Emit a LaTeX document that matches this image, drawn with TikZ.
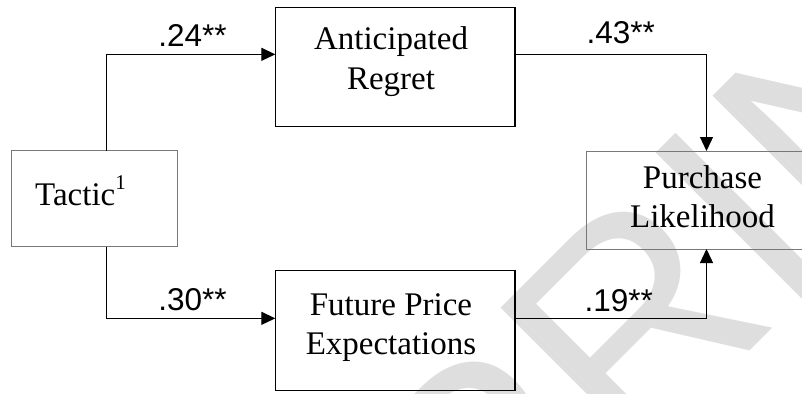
\documentclass[tikz,border=0pt]{standalone}
\usepackage{fontspec}
\setmainfont{Liberation Serif}
\setsansfont{Liberation Sans}
\usetikzlibrary{arrows.meta,calc}
\definecolor{framegray}{RGB}{120,120,120}
\definecolor{wmgray}{RGB}{222,222,222}

\begin{document}
\begin{tikzpicture}[x=1pt,y=-1pt,
  thickbox/.style={draw=black, line width=1.5pt, minimum width=239.7pt,
    minimum height=120pt, inner sep=0pt, outer sep=0pt},
  thinbox/.style={draw=framegray, line width=1pt, inner sep=0pt, outer sep=0pt},
  word/.style={font=\fontsize{33}{39.5}\selectfont, inner sep=0pt, anchor=base},
  coef/.style={font=\sffamily\fontsize{31.5}{36}\selectfont, inner sep=0pt, anchor=base},
  link/.style={line width=1.3pt, -{Triangle[length=14pt,width=13pt]}},
  wm/.style={font=\sffamily\fontsize{300}{300}\selectfont, text=wmgray, inner sep=0pt},
]
\clip (0,0) rectangle (802,393);

% faint watermark behind the diagram
\node[wm, rotate=45] (wmk) at (515,440) {PREPRINT};

% boxes
\node[thinbox, minimum width=166.3pt, minimum height=96pt] (tac) at (94.15,198.7) {};
\node[thickbox, minimum height=119.4pt] (ar) at (395.15,67) {};
\node[thickbox] (fp) at (395.15,330.7) {};
\node[thinbox, minimum width=239.7pt, minimum height=98pt] (pl) at (706.5,200) {};

% box texts
\node[word, anchor=base west] (tact) at (35,205.7)
  {Tactic\raisebox{16pt}{\fontsize{21}{21}\selectfont 1}};
\node[word] (ar1) at (391,50) {Anticipated};
\node[word] (ar2) at (391,89.5) {Regret};
\node[word] (fp1) at (391,315) {Future Price};
\node[word] (fp2) at (391,354.5) {Expectations};
\node[word] (pl1) at (702.5,188) {Purchase};
\node[word] (pl2) at (702.5,227.5) {Likelihood};

% connector end points
\coordinate (tu) at ($(tac.north west)!0.5755!(tac.north east)$);
\coordinate (td) at ($(tac.south west)!0.5755!(tac.south east)$);
\coordinate (arin) at ($(ar.north west)!0.394!(ar.south west)$);
\coordinate (arout) at ($(ar.north east)!0.394!(ar.south east)$);
\coordinate (fpin) at ($(fp.north west)!0.397!(fp.south west)$);
\coordinate (fpout) at ($(fp.north east)!0.397!(fp.south east)$);

% paths
\draw[link] (tu) |- (arin);
\draw[link] (td) |- (fpin);
\draw[link] (arout) -| (pl.north);
\draw[link] (fpout) -| (pl.south);

% path coefficients
\node[coef] (c1) at (192.5,46.7) {.24**};
\node[coef] (c2) at (192.5,310.7) {.30**};
\node[coef] (c3) at (620.8,43.3) {.43**};
\node[coef] (c4) at (618.7,311) {.19**};
\end{tikzpicture}
\end{document}
